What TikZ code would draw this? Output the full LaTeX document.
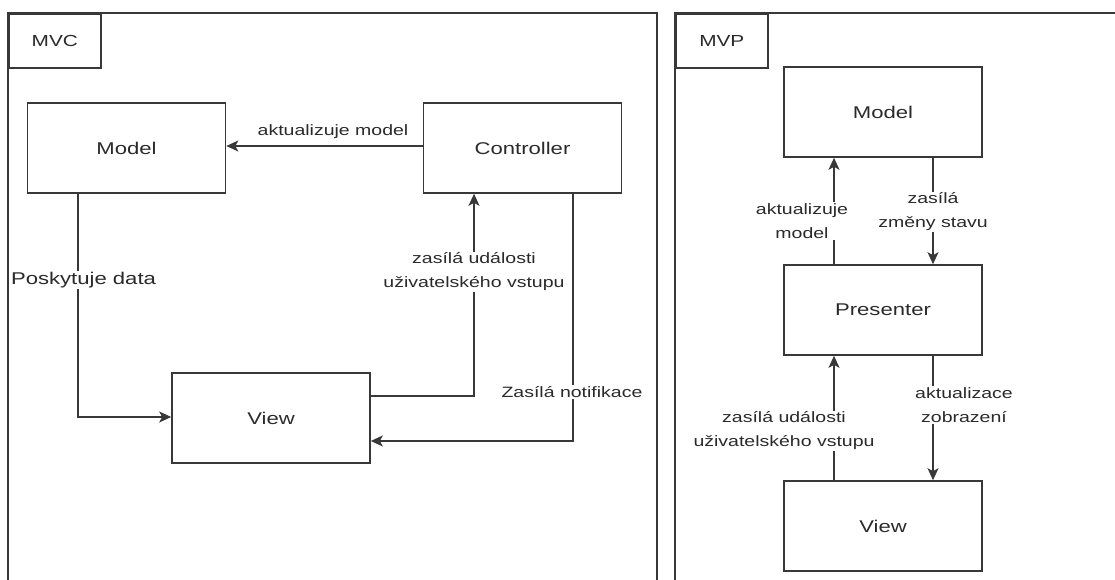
\documentclass[tikz,border=0pt]{standalone}
\usepackage{fontspec}
\setmainfont{Liberation Sans}[FakeStretch=1.3]
\usetikzlibrary{arrows.meta}
\definecolor{lnc}{HTML}{383838}
\definecolor{txc}{HTML}{2A2A2A}
\tikzset{
  box/.style={draw=lnc, line width=1.6pt, minimum width=198pt, minimum height=90pt, inner sep=0pt, text=txc, font=\fontsize{17}{20}\selectfont},
  tagbox/.style={draw=lnc, line width=1.6pt, minimum width=92pt, minimum height=54pt, inner sep=0pt, text=txc, font=\fontsize{16}{19}\selectfont},
  frame/.style={draw=lnc, line width=1.6pt},
  arr/.style={draw=lnc, line width=1.6pt, -{Stealth[length=12pt,width=11pt,inset=3pt]}},
  lbl/.style={fill=white, inner sep=1pt, text=txc, align=center, font=\fontsize{15}{24}\selectfont},
  lblbig/.style={fill=white, inner sep=1pt, text=txc, align=center, font=\fontsize{17}{24}\selectfont},
}
\begin{document}
\begin{tikzpicture}[x=1pt,y=-1pt]
\useasboundingbox (0,0) rectangle (1115,580);
% frames
\draw[frame] (8,600) -- (8,13) -- (657,13) -- (657,600);
\draw[frame] (675,600) -- (675,13) -- (1130,13);
\node[tagbox, anchor=north west] (mvctag) at (8,13) {MVC};
\node[tagbox, anchor=north west] (mvptag) at (675,13) {MVP};
% MVC nodes
\node[box] (model) at (126.5,148) {Model};
\node[box] (ctrl) at (522.5,148) {Controller};
\node[box] (view) at (271,418) {View};
% MVC connectors
\draw[arr] ([yshift=2]ctrl.west) -- ([yshift=2]model.east);
\node[text=txc, font=\fontsize{15}{18}\selectfont] (l1) at (333,132) {aktualizuje model};
\draw[arr] ([xshift=-48.5]model.south) |- ([yshift=1]view.west);
\node[lblbig] (l2) at (83.5,280) {Poskytuje data};
\draw[arr] ([yshift=22]view.east) -| ([xshift=-48.5]ctrl.south);
\node[lbl] (l3) at (474,272) {zasílá události\\uživatelského vstupu};
\draw[arr] ([xshift=50.5]ctrl.south) |- ([yshift=-23]view.east);
\node[lbl] (l4) at (572,392) {Zasílá notifikace};
% MVP nodes
\node[box] (pmodel) at (883,112) {Model};
\node[box] (pres) at (883,310) {Presenter};
\node[box] (pview) at (883,526) {View};
% MVP connectors
\draw[arr] ([xshift=-49]pres.north) -- ([xshift=-49]pmodel.south);
\node[lbl] (m1) at (802,221) {aktualizuje\\model};
\draw[arr] ([xshift=50]pmodel.south) -- ([xshift=50]pres.north);
\node[lbl] (m2) at (933,212) {zasílá\\změny stavu};
\draw[arr] ([xshift=-49]pview.north) -- ([xshift=-49]pres.south);
\node[lbl] (m3) at (784,431) {zasílá události\\uživatelského vstupu};
\draw[arr] ([xshift=50]pres.south) -- ([xshift=50]pview.north);
\node[lbl] (m4) at (964,405) {aktualizace\\zobrazení};
\end{tikzpicture}
\end{document}
